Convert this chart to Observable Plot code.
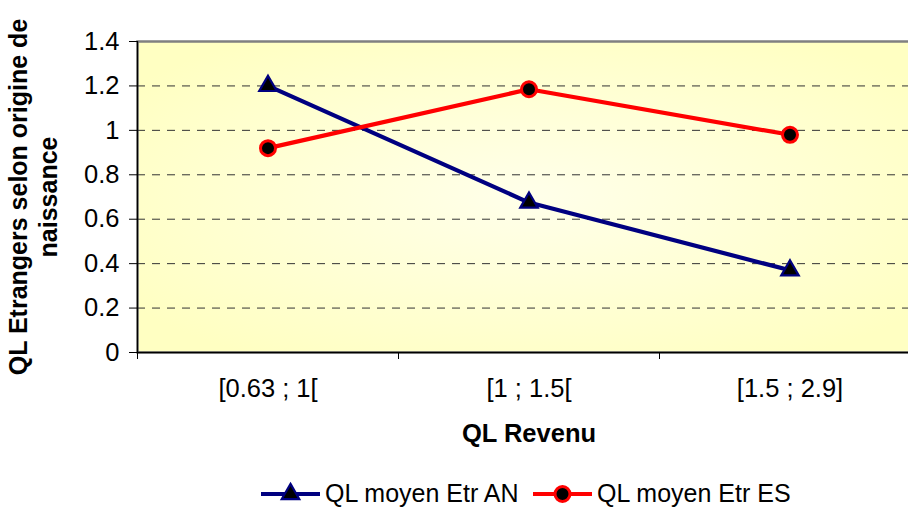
<!DOCTYPE html>
<html>
<head>
<meta charset="utf-8">
<script src="https://cdn.jsdelivr.net/npm/d3@7"></script>
<script src="https://cdn.jsdelivr.net/npm/@observablehq/plot@0.6"></script>
<style>
  html, body { margin: 0; padding: 0; background: #fff; overflow: hidden; width: 908px; height: 509px; }
  body { font-family: "Liberation Sans", Arial, sans-serif; }
  #chart { width: 920px; height: 470px; overflow: visible; }
  #chart svg { display: block; max-width: none !important; width: 920px; height: 470px; }
  #legend { position: relative; height: 39px; font-size: 25px; color: #000; }
  .item { position: absolute; top: 0; height: 39px; display: flex; align-items: center; }
  .item svg { display: block; }
</style>
</head>
<body>
<div id="chart"></div>
<div id="legend"></div>
<script>
const categories = ["[0.63 ; 1[", "[1 ; 1.5[", "[1.5 ; 2.9]"];
const seriesNames = ["QL moyen Etr AN", "QL moyen Etr ES"];
const valuesAN = [1.20, 0.675, 0.37];
const valuesES = [0.92, 1.185, 0.98];
const yTicks = [0, 0.2, 0.4, 0.6, 0.8, 1, 1.2, 1.4];
const gridTicks = [0.2, 0.4, 0.6, 0.8, 1, 1.2];
const yTitle = "QL Etrangers selon origine de\nnaissance";
const xTitle = "QL Revenu";

const colors = { AN: "#000080", ES: "#FF0000" };

const dataAN = categories.map((c, i) => ({ i: i + 0.5, cat: c, v: valuesAN[i] }));
const dataES = categories.map((c, i) => ({ i: i + 0.5, cat: c, v: valuesES[i] }));
const boundaries = d3.range(categories.length + 1);

const font = "Liberation Sans, Arial, sans-serif";

const plot = Plot.plot({
  width: 920,
  height: 470,
  marginLeft: 137,
  marginRight: 0,
  marginTop: 41,
  marginBottom: 118,
  style: { fontFamily: font, fontSize: "25.5px", color: "#000", background: "transparent", overflow: "visible" },
  x: { domain: [0, categories.length], label: null },
  y: { domain: [0, 1.4], label: null },
  marks: [
    Plot.frame({ fill: "url(#bgGrad)", stroke: "#808080", strokeWidth: 2.5 }),
    Plot.ruleY(gridTicks, { stroke: "#333", strokeWidth: 1, strokeDasharray: "8,7" }),
    Plot.ruleY([0], { stroke: "#000", strokeWidth: 1.3 }),
    Plot.ruleX([0], { stroke: "#000", strokeWidth: 1.3 }),
    Plot.axisY({ ticks: yTicks, tickFormat: d => String(+d.toFixed(1)), tickSize: 8, tickPadding: 10, label: null, fontSize: 25.5 }),
    Plot.axisX({ ticks: boundaries, tickFormat: () => "", tickSize: 7, label: null }),
    Plot.axisX({ ticks: dataAN.map(d => d.i), tickFormat: d => categories[Math.floor(d)], tickSize: 0, tickPadding: 26, label: null, fontSize: 25.5 }),
    Plot.text([yTitle], { frameAnchor: "left", rotate: -90, dx: -105, text: d => d, fontWeight: "bold", fontSize: 25, lineHeight: 1.18, textAnchor: "middle", lineAnchor: "middle" }),
    Plot.text([xTitle], { frameAnchor: "bottom", dy: 81, text: d => d, fontWeight: "bold", fontSize: 25.5, lineAnchor: "middle" }),
    Plot.line(dataAN, { x: "i", y: "v", stroke: colors.AN, strokeWidth: 4.2 }),
    Plot.line(dataES, { x: "i", y: "v", stroke: colors.ES, strokeWidth: 4.2 }),
    Plot.dot(dataAN, { x: "i", y: "v", symbol: "triangle", r: 6.5, fill: "#000", stroke: colors.AN, strokeWidth: 2.2 }),
    Plot.dot(dataES, { x: "i", y: "v", symbol: "circle", r: 7.5, fill: "#000", stroke: colors.ES, strokeWidth: 3 })
  ]
});

// background gradient for the plotting area
const svg = d3.select(plot);
const defs = svg.insert("defs", ":first-child");
const g = defs.append("radialGradient").attr("id", "bgGrad").attr("cx", "50%").attr("cy", "50%").attr("r", "62%");
g.append("stop").attr("offset", "0%").attr("stop-color", "#FFFFEA");
g.append("stop").attr("offset", "100%").attr("stop-color", "#FFFFC2");

document.getElementById("chart").appendChild(plot);

// legend
const legend = document.getElementById("legend");
const items = [
  { name: seriesNames[0], color: colors.AN, symbol: "triangle", left: 261 },
  { name: seriesNames[1], color: colors.ES, symbol: "circle", left: 533 }
];
items.forEach(it => {
  const div = document.createElement("div");
  div.className = "item";
  div.style.left = it.left + "px";
  const s = d3.create("svg").attr("width", 64).attr("height", 39);
  s.append("line").attr("x1", 0).attr("x2", 59).attr("y1", 24).attr("y2", 24)
    .attr("stroke", it.color).attr("stroke-width", 4.2);
  if (it.symbol === "triangle") {
    s.append("path").attr("d", d3.symbol(d3.symbolTriangle, Math.PI * 6.5 * 6.5)())
      .attr("transform", "translate(29.5,24)").attr("fill", "#000").attr("stroke", it.color).attr("stroke-width", 2.2);
  } else {
    s.append("circle").attr("cx", 29.5).attr("cy", 24).attr("r", 7.5)
      .attr("fill", "#000").attr("stroke", it.color).attr("stroke-width", 3);
  }
  div.appendChild(s.node());
  const span = document.createElement("span");
  span.textContent = it.name;
  span.style.marginTop = "8px";
  div.appendChild(span);
  legend.appendChild(div);
});
</script>
</body>
</html>
